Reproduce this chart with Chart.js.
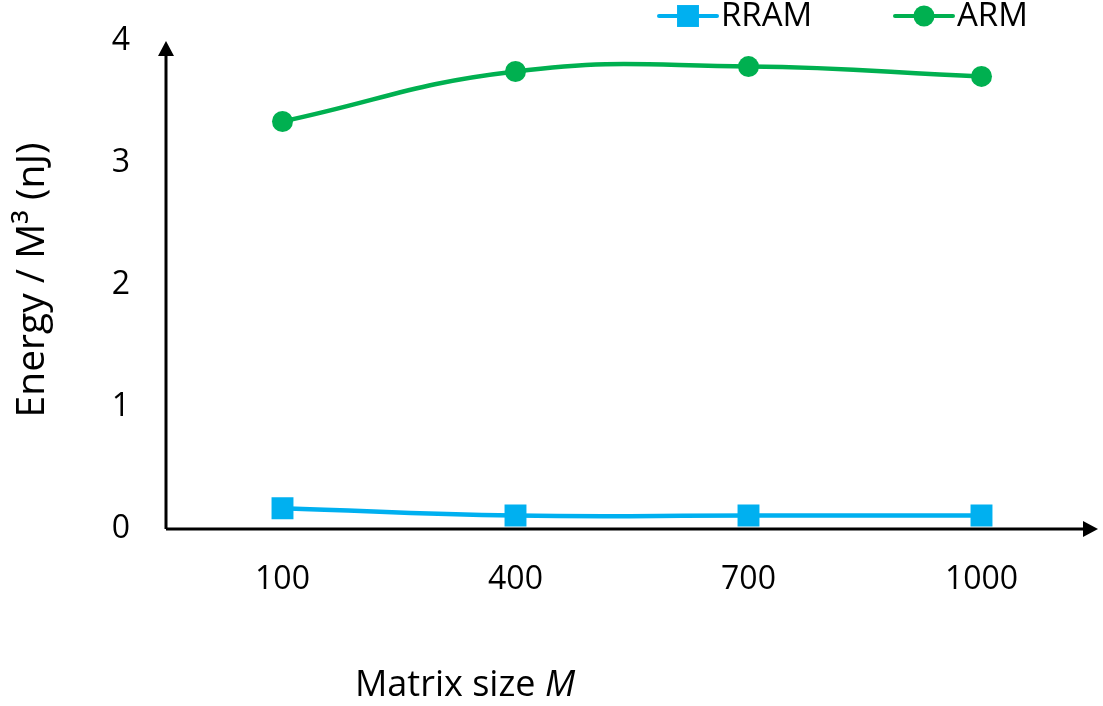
<!DOCTYPE html>
<html>
<head>
<meta charset="utf-8">
<script src="https://cdn.jsdelivr.net/npm/chart.js@4/dist/chart.umd.min.js"></script>
<style>
  html, body { margin: 0; padding: 0; background: #fff; overflow: hidden; }
  canvas { display: block; }
</style>
</head>
<body>
<canvas id="chart" width="1103" height="706"></canvas>
<script>
// ---- data
const matrixSizes = ['100', '400', '700', '1000'];
const rramEnergy = [0.17, 0.11, 0.11, 0.11];
const armEnergy = [3.34, 3.75, 3.79, 3.71];
const yTicks = [0, 1, 2, 3, 4];

const FONT = '"Open Sans", "Noto Sans", sans-serif';
const BLUE = '#00B0F0';
const GREEN = '#00B050';

// axis lines with arrow heads, titles and the legend
const decorations = {
  id: 'decorations',
  afterDraw(chart) {
    const { ctx, chartArea: { left, right, top, bottom } } = chart;
    ctx.save();
    ctx.strokeStyle = '#000';
    ctx.fillStyle = '#000';
    ctx.lineWidth = 3;
    ctx.beginPath();
    ctx.moveTo(left, bottom);
    ctx.lineTo(right - 8, bottom);
    ctx.moveTo(left, bottom);
    ctx.lineTo(left, top + 8);
    ctx.stroke();
    // arrow heads
    ctx.beginPath();
    ctx.moveTo(right, bottom);
    ctx.lineTo(right - 15, bottom - 8);
    ctx.lineTo(right - 15, bottom + 8);
    ctx.closePath();
    ctx.fill();
    ctx.beginPath();
    ctx.moveTo(left, top);
    ctx.lineTo(left - 8, top + 15);
    ctx.lineTo(left + 8, top + 15);
    ctx.closePath();
    ctx.fill();

    // axis titles
    ctx.textBaseline = 'middle';
    ctx.textAlign = 'center';
    ctx.font = '39px ' + FONT;
    ctx.save();
    ctx.translate(33, 280);
    ctx.rotate(-Math.PI / 2);
    ctx.fillText('Energy / M\u00B3 (nJ)', 0, 0);
    ctx.restore();

    ctx.textAlign = 'left';
    const t1 = 'Matrix size ';
    ctx.font = '36px ' + FONT;
    const w1 = ctx.measureText(t1).width;
    ctx.font = 'italic 36px ' + FONT;
    const w2 = ctx.measureText('M').width;
    const x0 = 465 - (w1 + w2) / 2;
    ctx.font = '36px ' + FONT;
    ctx.fillText(t1, x0, 686);
    ctx.font = 'italic 36px ' + FONT;
    ctx.fillText('M', x0 + w1, 686);

    // legend
    const items = [
      { ds: chart.data.datasets[0], x: 659 },
      { ds: chart.data.datasets[1], x: 895 },
    ];
    ctx.font = '33px ' + FONT;
    for (const it of items) {
      const ly = 16;
      ctx.strokeStyle = it.ds.borderColor;
      ctx.fillStyle = it.ds.borderColor;
      ctx.lineWidth = 4;
      ctx.lineCap = 'round';
      ctx.beginPath();
      ctx.moveTo(it.x, ly);
      ctx.lineTo(it.x + 58, ly);
      ctx.stroke();
      Chart.helpers.drawPoint(ctx, {
        pointStyle: it.ds.pointStyle,
        radius: it.ds.pointRadius,
        borderWidth: 0,
        rotation: 0,
      }, it.x + 29, ly);
      ctx.fillStyle = '#000';
      ctx.textAlign = 'left';
      ctx.fillText(it.ds.label, it.x + 62, ly + 1);
    }
    ctx.restore();
  }
};

new Chart(document.getElementById('chart'), {
  type: 'line',
  data: {
    labels: matrixSizes,
    datasets: [
      {
        label: 'RRAM',
        data: rramEnergy,
        borderColor: BLUE,
        backgroundColor: BLUE,
        pointBackgroundColor: BLUE,
        borderWidth: 4.5,
        pointStyle: 'rect',
        pointRadius: 15.5,
        pointBorderWidth: 0,
        tension: 0.45,
      },
      {
        label: 'ARM',
        data: armEnergy,
        borderColor: GREEN,
        backgroundColor: GREEN,
        pointBackgroundColor: GREEN,
        borderWidth: 4.5,
        pointStyle: 'circle',
        pointRadius: 10.5,
        pointBorderWidth: 0,
        tension: 0.45,
      },
    ],
  },
  options: {
    responsive: false,
    animation: false,
    layout: { autoPadding: false, padding: { top: 41, right: 5, left: 0, bottom: 0 } },
    plugins: {
      legend: { display: false },
      tooltip: { enabled: false },
    },
    scales: {
      x: {
        offset: true,
        grid: { display: false, drawTicks: false },
        border: { display: false },
        ticks: { color: '#000', font: { family: FONT, size: 32 }, padding: 32 },
        afterFit(scale) {
          scale.height = 177;
          scale.paddingLeft = 0;
          scale.paddingRight = 0;
        },
      },
      y: {
        min: 0,
        max: 4,
        afterBuildTicks(scale) { scale.ticks = yTicks.map(v => ({ value: v })); },
        grid: { display: false, drawTicks: false },
        border: { display: false },
        ticks: { color: '#000', font: { family: FONT, size: 32 }, padding: 36 },
        afterFit(scale) {
          scale.width = 166;
          scale.paddingTop = 0;
          scale.paddingBottom = 0;
        },
      },
    },
  },
  plugins: [decorations],
});
</script>
</body>
</html>
